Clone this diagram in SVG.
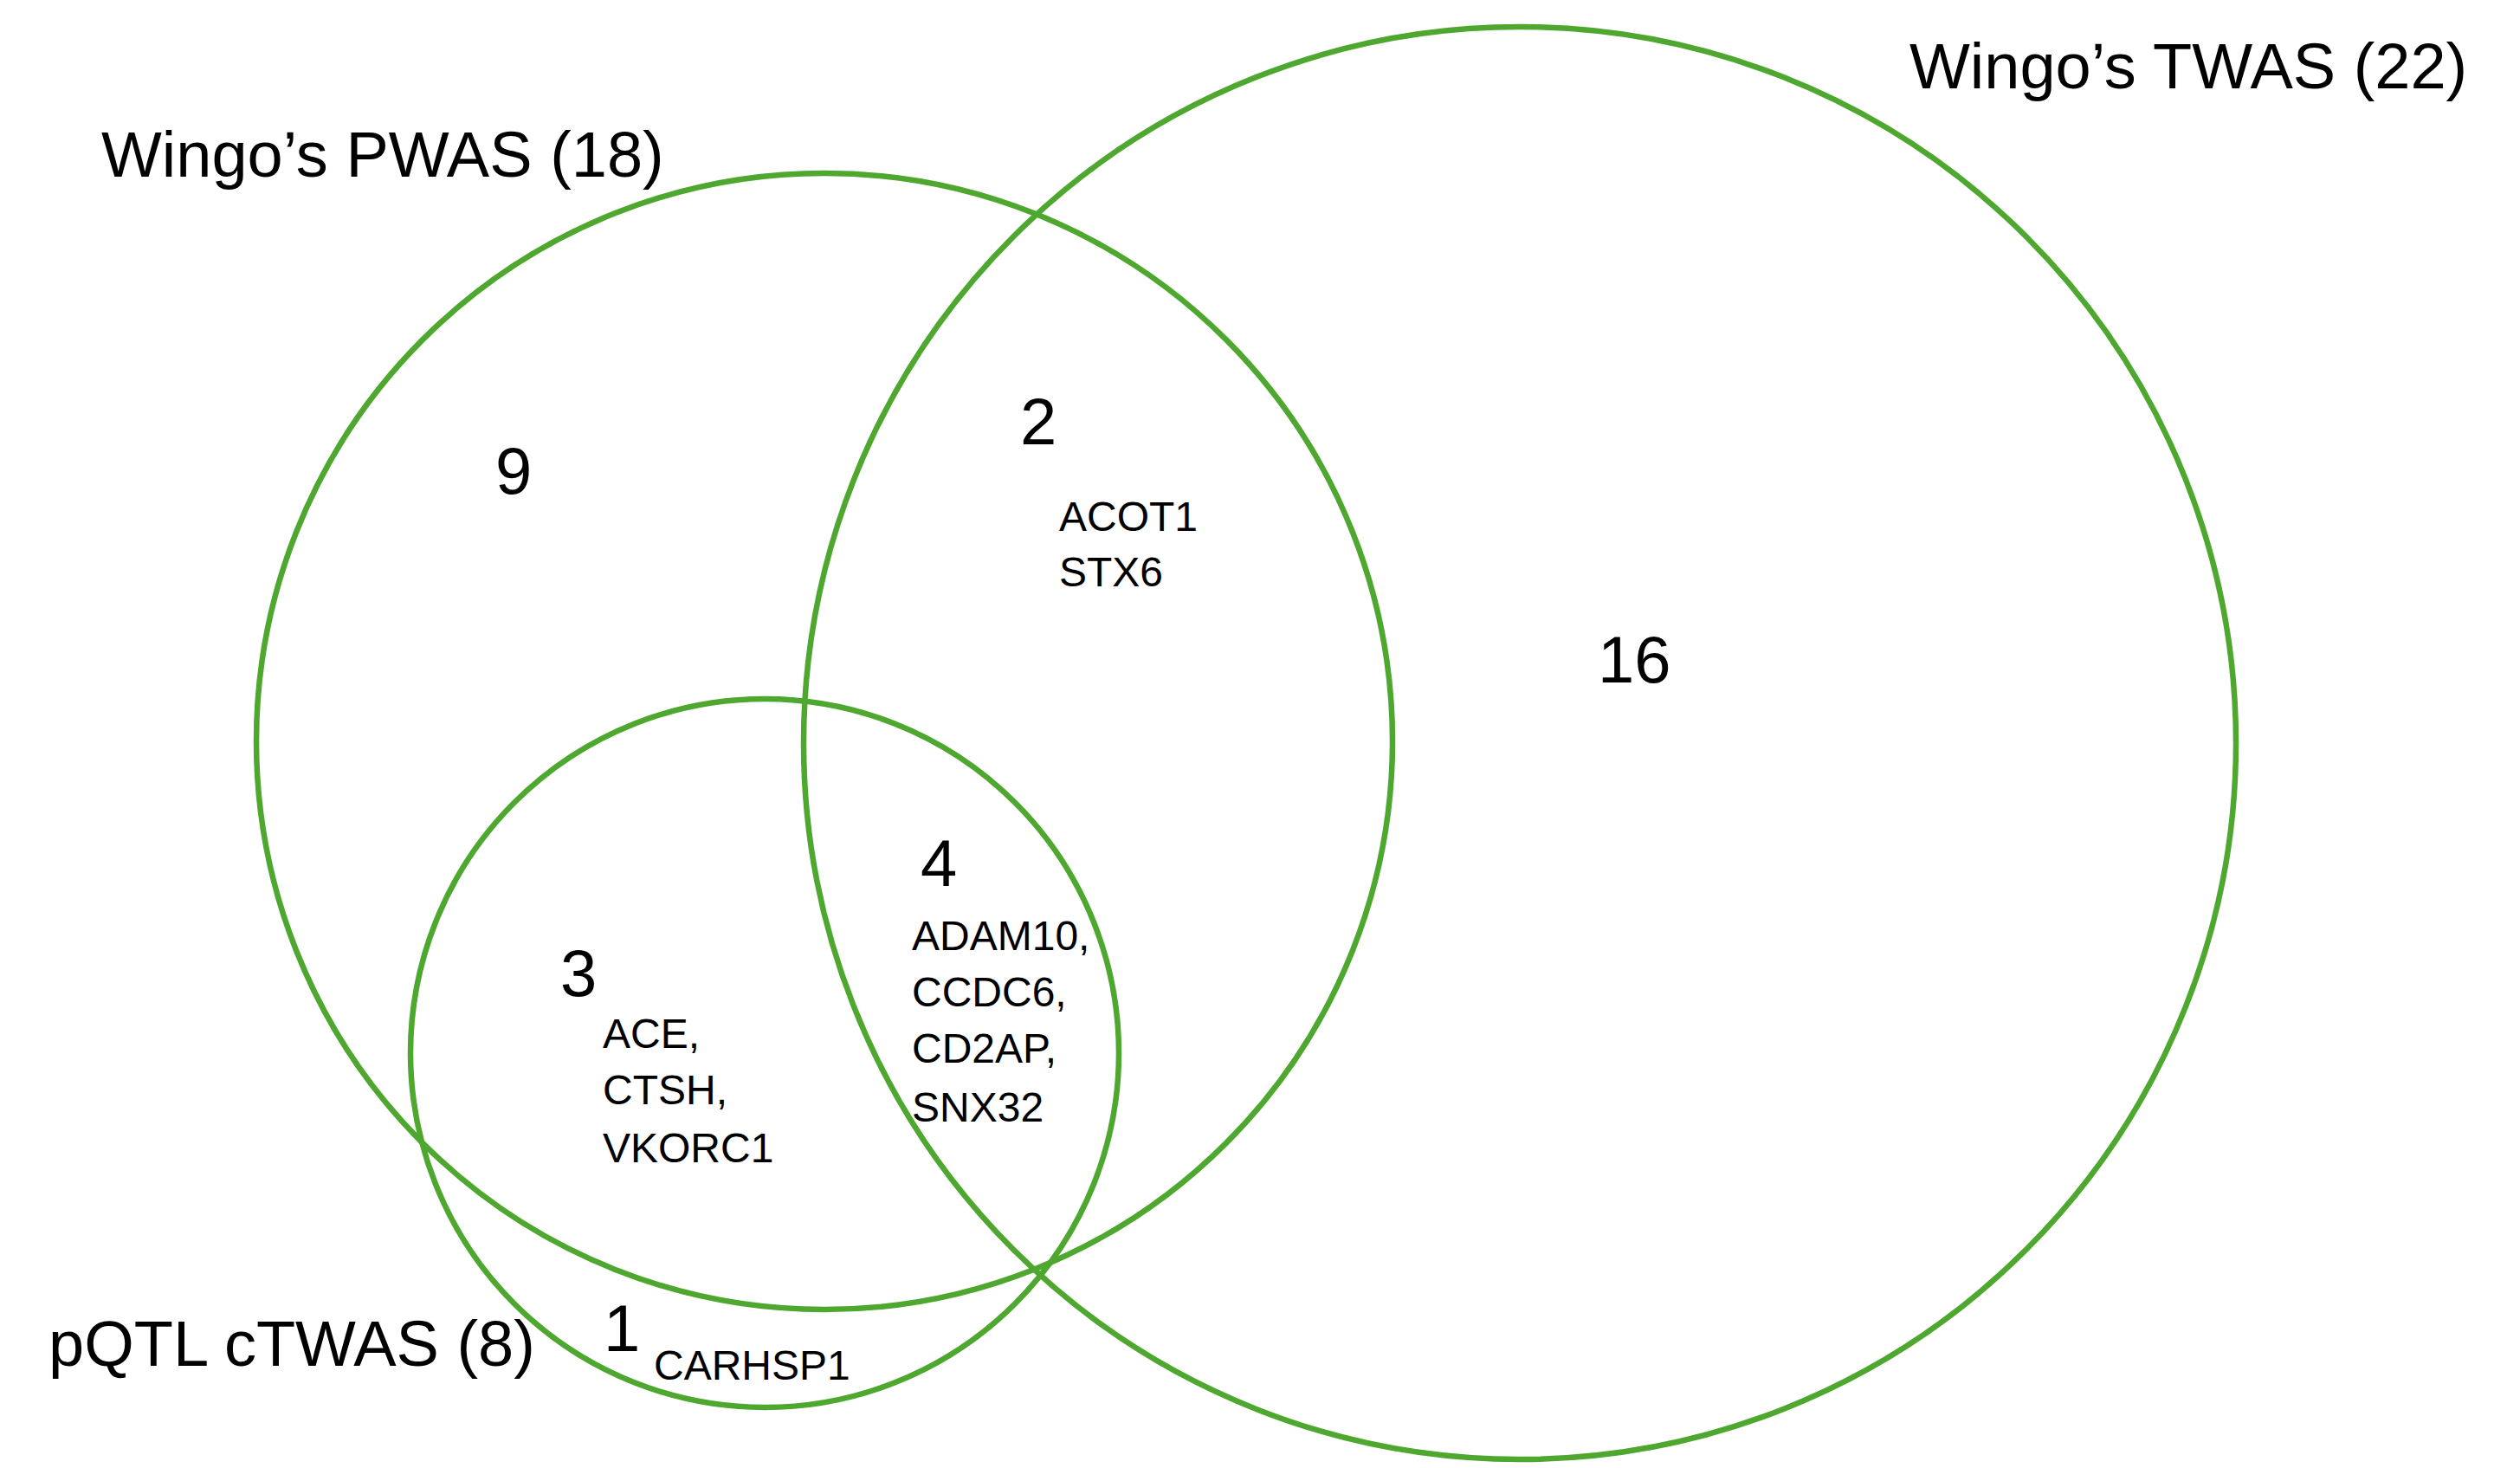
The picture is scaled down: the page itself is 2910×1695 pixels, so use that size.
<svg xmlns="http://www.w3.org/2000/svg" width="2910" height="1695" viewBox="0 0 2910 1695">
<style>
.set{fill:none;stroke:#4ea72e;stroke-width:6.5}
.title{font-family:"Liberation Sans",Arial,sans-serif;font-size:74px;fill:#000}
.num{font-family:"Liberation Sans",Arial,sans-serif;font-size:76px;fill:#000}
.gene{font-family:"Liberation Sans",Arial,sans-serif;font-size:48px;fill:#000}
</style>
<rect width="2910" height="1695" fill="#fff"/>
<g id="set-pwas">
<circle class="set" cx="952" cy="856" r="656"/>
<text class="title" x="117" y="204">Wingo’s PWAS (18)</text>
</g>
<g id="set-twas">
<circle class="set" cx="1755" cy="858" r="827"/>
<text class="title" x="2205" y="102">Wingo’s TWAS (22)</text>
</g>
<g id="set-ctwas">
<circle class="set" cx="883" cy="1216" r="409"/>
<text class="title" x="56" y="1577">pQTL cTWAS (8)</text>
</g>
<g id="connectors"></g>
<g id="region-pwas-only">
<text class="num" x="572" y="570">9</text>
</g>
<g id="region-pwas-twas">
<text class="num" x="1178" y="513">2</text>
<text class="gene" x="1223" y="613">ACOT1</text>
<text class="gene" x="1223" y="677">STX6</text>
</g>
<g id="region-twas-only">
<text class="num" x="1845" y="788">16</text>
</g>
<g id="region-pwas-ctwas">
<text class="num" x="647" y="1150">3</text>
<text class="gene" x="696" y="1210">ACE,</text>
<text class="gene" x="696" y="1275">CTSH,</text>
<text class="gene" x="696" y="1342">VKORC1</text>
</g>
<g id="region-all">
<text class="num" x="1063" y="1023">4</text>
<text class="gene" x="1053" y="1097">ADAM10,</text>
<text class="gene" x="1053" y="1162">CCDC6,</text>
<text class="gene" x="1053" y="1227">CD2AP,</text>
<text class="gene" x="1053" y="1295">SNX32</text>
</g>
<g id="region-ctwas-only">
<text class="num" x="697" y="1560">1</text>
<text class="gene" x="755" y="1593">CARHSP1</text>
</g>
</svg>
